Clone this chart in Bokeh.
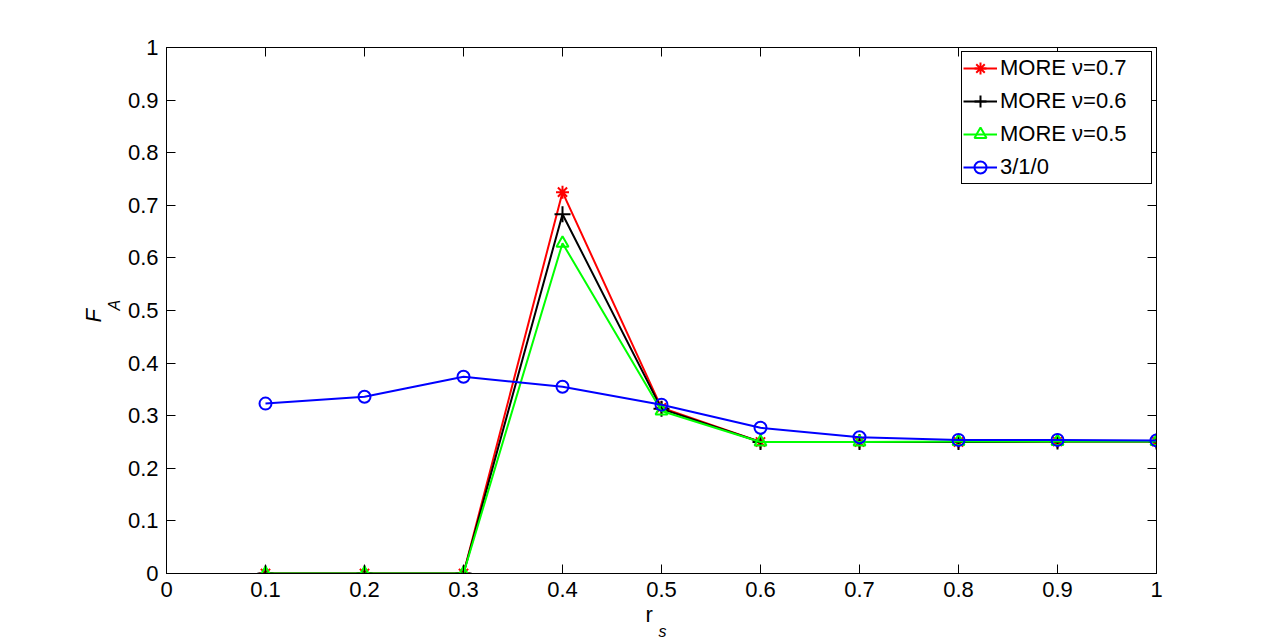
from bokeh.plotting import figure
from bokeh.models import (FixedTicker, LinearAxis, Range1d, Legend, LegendItem, Title)
from bokeh.embed import file_html
from bokeh.resources import INLINE

# ---- data ----
rs = [0.1, 0.2, 0.3, 0.4, 0.5, 0.6, 0.7, 0.8, 0.9, 1.0]
more_07 = [0.0, 0.0, 0.0, 0.725, 0.315, 0.250, 0.250, 0.250, 0.251, 0.251]
more_06 = [0.0, 0.0, 0.0, 0.683, 0.313, 0.250, 0.250, 0.250, 0.251, 0.251]
more_05 = [0.0, 0.0, 0.0, 0.628, 0.309, 0.250, 0.250, 0.251, 0.251, 0.251]
base_310 = [0.323, 0.336, 0.374, 0.355, 0.321, 0.277, 0.259, 0.254, 0.254, 0.253]
series_names = ["MORE \u03bd=0.7", "MORE \u03bd=0.6", "MORE \u03bd=0.5", "3/1/0"]
tick_vals = [0, 0.1, 0.2, 0.3, 0.4, 0.5, 0.6, 0.7, 0.8, 0.9, 1]
tick_labels = ["0", "0.1", "0.2", "0.3", "0.4", "0.5", "0.6", "0.7", "0.8", "0.9", "1"]

FONT = "Liberation Sans"
FS = "22px"

p = figure(frame_width=990, frame_height=526,
           min_border_left=166, min_border_right=123,
           min_border_top=47, min_border_bottom=71,
           x_range=Range1d(0, 1), y_range=Range1d(0, 1),
           output_backend="svg", toolbar_location=None,
           background_fill_color="white", border_fill_color="white")
p.xgrid.visible = False
p.ygrid.visible = False
p.outline_line_color = "black"
p.outline_line_width = 1
p.outline_line_alpha = 1

overrides = {v: l for v, l in zip(tick_vals, tick_labels)}
blank = {v: "" for v in tick_vals}

def style_axis(ax, labels):
    ax.ticker = FixedTicker(ticks=tick_vals)
    ax.major_label_overrides = labels
    ax.major_tick_in = 9
    ax.major_tick_out = 0
    ax.minor_tick_line_color = None
    ax.axis_line_color = "black"
    ax.major_tick_line_color = "black"
    ax.major_label_text_font = FONT
    ax.major_label_text_font_size = FS
    ax.major_label_text_color = "black"
    ax.major_label_standoff = 8

style_axis(p.xaxis[0], overrides)
style_axis(p.yaxis[0], overrides)
top_ax = LinearAxis()
right_ax = LinearAxis()
style_axis(top_ax, blank)
style_axis(right_ax, blank)
top_ax.major_label_text_font_size = "0px"
right_ax.major_label_text_font_size = "0px"
top_ax.major_label_standoff = 0
right_ax.major_label_standoff = 0
p.add_layout(top_ax, "above")
p.add_layout(right_ax, "right")

lw = 2
r1 = p.line(rs, more_07, line_color="#ff0000", line_width=lw)
m1 = p.scatter(rs, more_07, marker="asterisk", size=13, line_color="#ff0000", line_width=2)
r2 = p.line(rs, more_06, line_color="black", line_width=lw)
m2 = p.scatter(rs, more_06, marker="cross", size=16, line_color="black", line_width=2)
r3 = p.line(rs, more_05, line_color="#00ff00", line_width=lw)
m3 = p.scatter(rs, more_05, marker="triangle", size=12, line_color="#00ff00", fill_alpha=0, line_width=2)
r4 = p.line(rs, base_310, line_color="#0000ff", line_width=lw)
m4 = p.scatter(rs, base_310, marker="circle", size=12, line_color="#0000ff", fill_alpha=0, line_width=2)

legend = Legend(items=[
    LegendItem(label=series_names[0], renderers=[r1, m1]),
    LegendItem(label=series_names[1], renderers=[r2, m2]),
    LegendItem(label=series_names[2], renderers=[r3, m3]),
    LegendItem(label=series_names[3], renderers=[r4, m4]),
], location="top_right")
legend.label_text_font = FONT
legend.label_text_font_size = FS
legend.label_text_color = "black"
legend.border_line_color = "black"
legend.border_line_width = 1
legend.border_line_alpha = 1
legend.background_fill_alpha = 1
legend.padding = 1
legend.spacing = 3
legend.margin = 4
legend.glyph_width = 34
legend.glyph_height = 30
legend.label_height = 30
legend.label_width = 150
legend.label_standoff = 3
p.add_layout(legend)

# axis labels with subscripts, as stacked titles in the side panels
p.add_layout(Title(text="r", text_font=FONT, text_font_size=FS, text_font_style="normal",
                   align="left", offset=479, standoff=0, text_color="black"), "below")
p.add_layout(Title(text="s", text_font=FONT, text_font_size="16px", text_font_style="italic",
                   align="left", offset=492, standoff=-12, text_color="black"), "below")
p.add_layout(Title(text="A", text_font=FONT, text_font_size="16px", text_font_style="italic",
                   align="left", offset=263, standoff=0, vertical_align="top",
                   text_color="black"), "left")
p.add_layout(Title(text="F", text_font=FONT, text_font_size=FS, text_font_style="italic",
                   align="left", offset=251, standoff=0, text_color="black"), "left")

open("out.html", "w").write(file_html(p, INLINE))
